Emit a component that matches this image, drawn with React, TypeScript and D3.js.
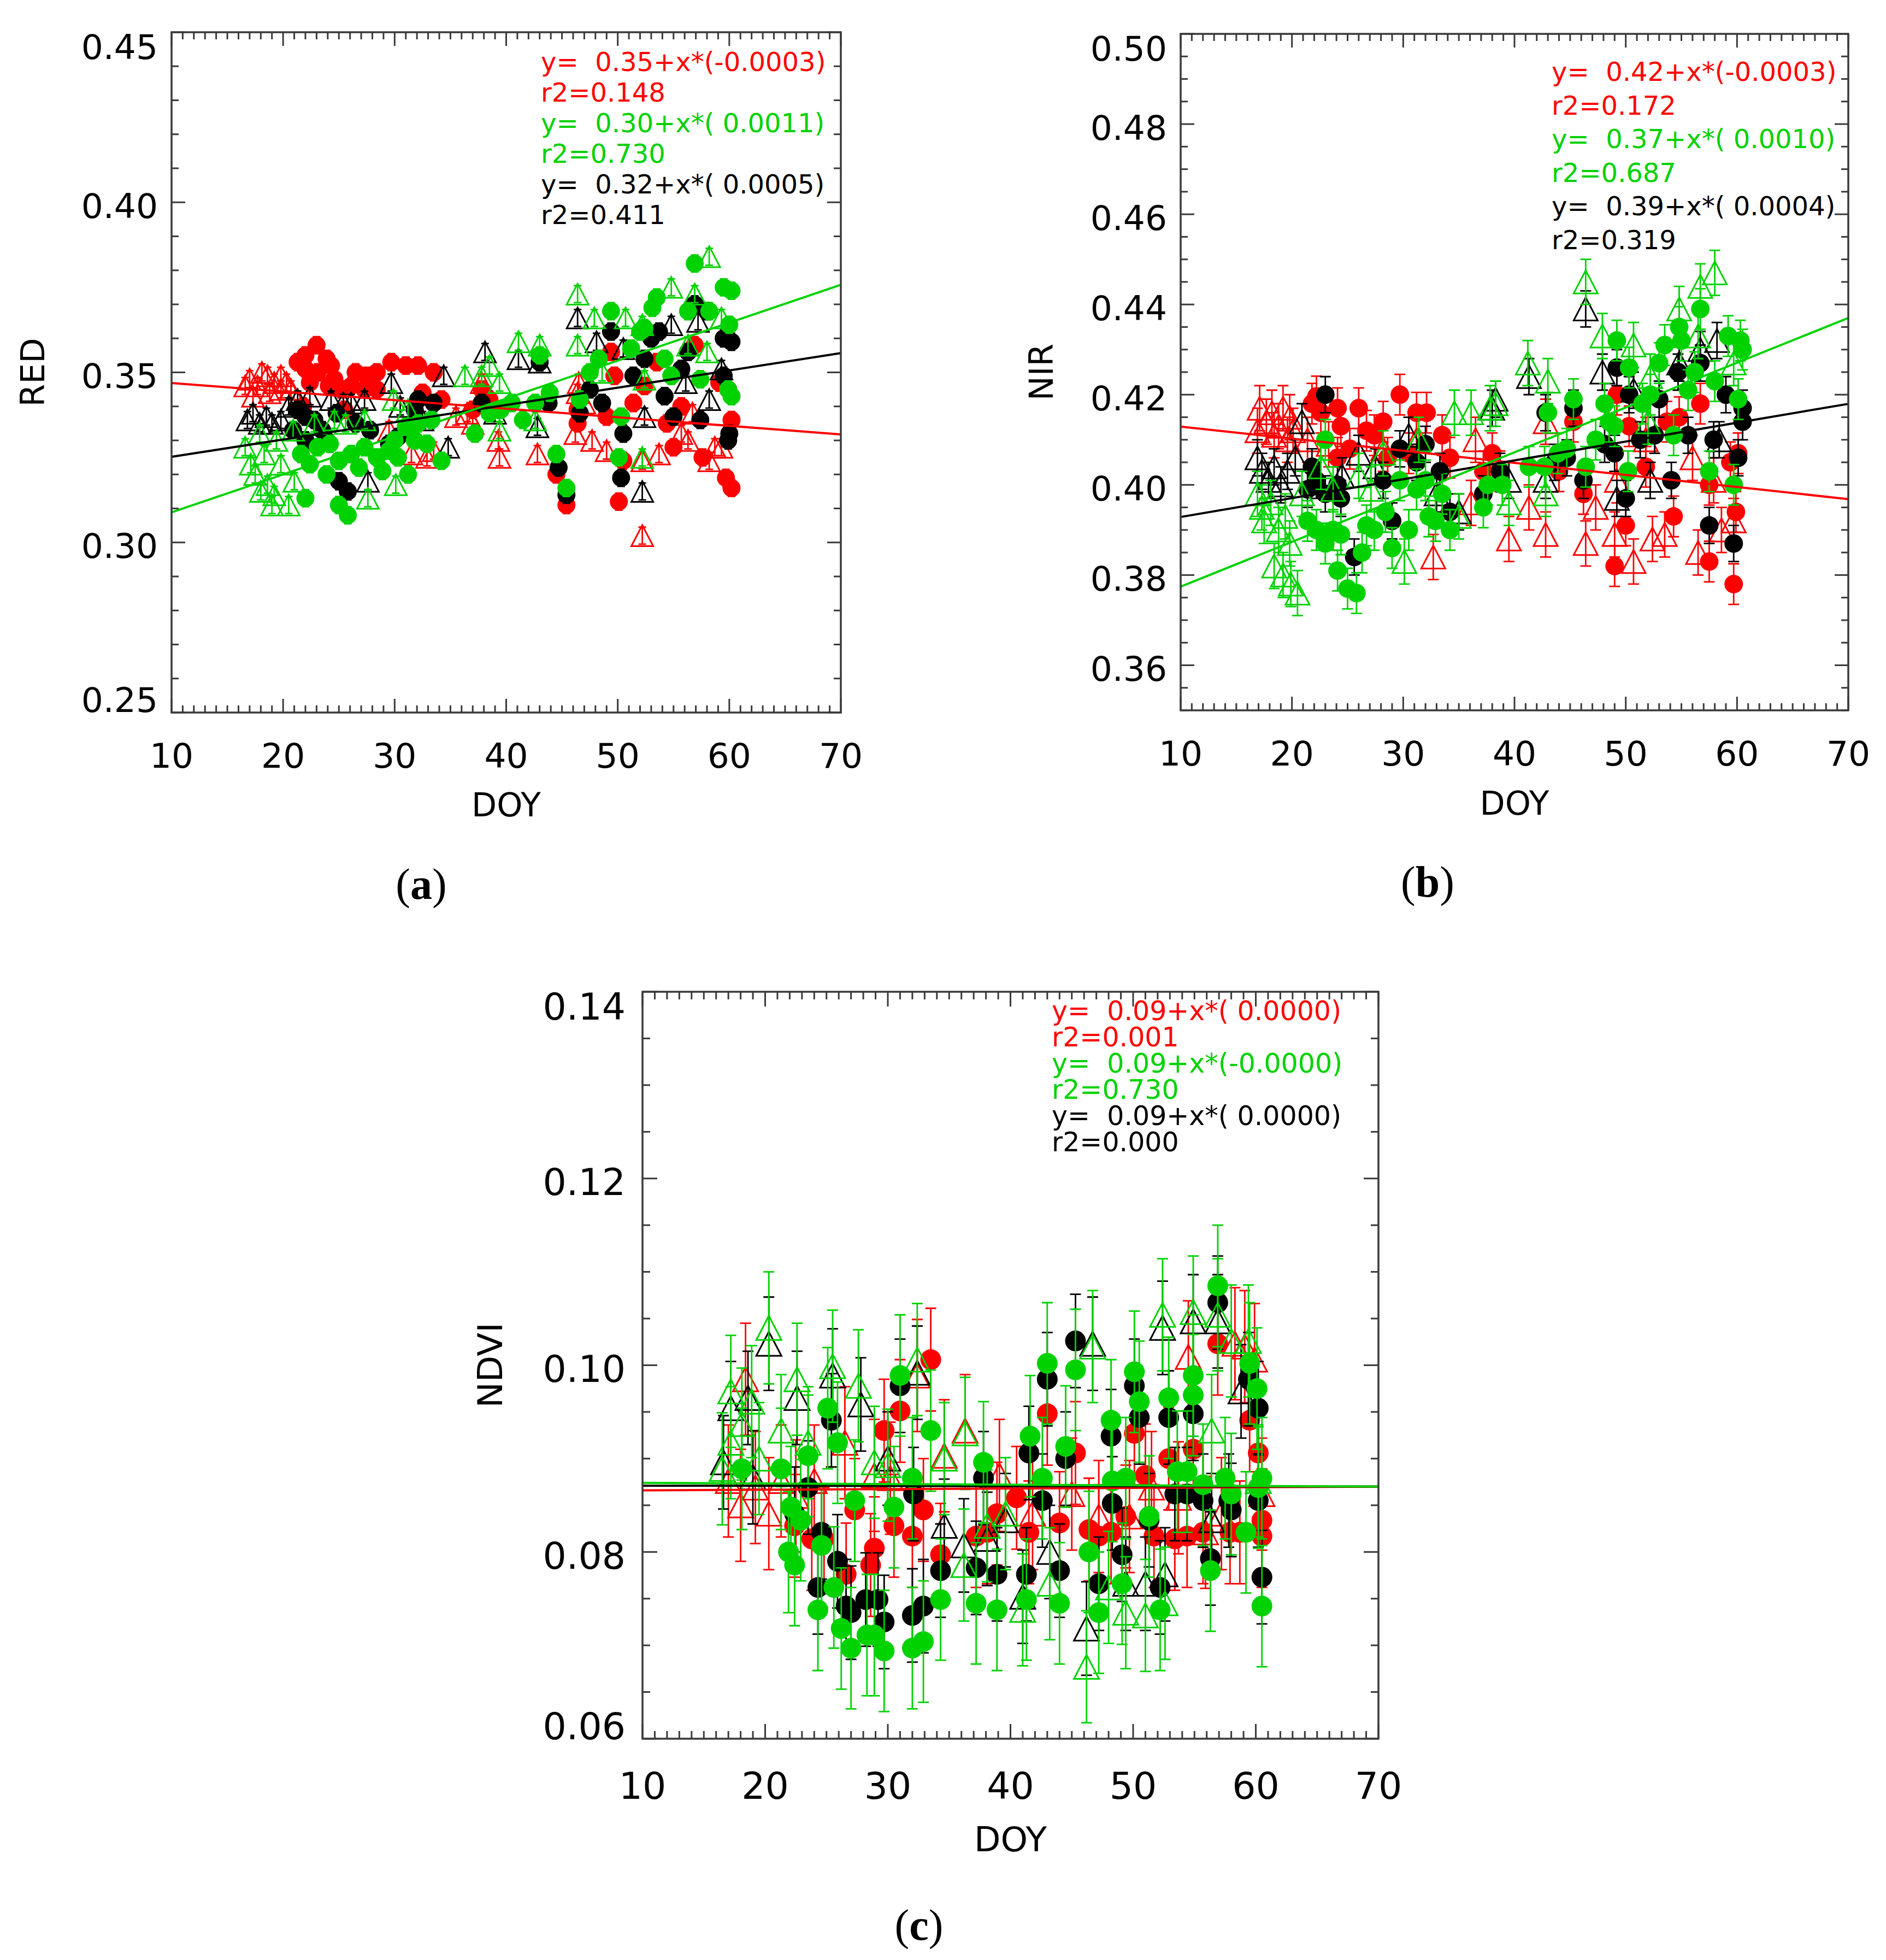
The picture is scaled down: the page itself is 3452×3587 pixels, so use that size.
import * as d3 from 'd3'

type Pt = [number, number]

const RED = '#ff0000'
const GREEN = '#00d200'
const BLACK = '#000000'
const AXIS = '#3a3a3a'

// ---------- (a) RED ----------
const A_RED_TRI: Pt[] = [
  [17.0, 0.348], [17.7, 0.346], [18.6, 0.349], [19.2, 0.347], [19.8, 0.349], [20.3, 0.347], [20.7, 0.345],
  [17.3, 0.343], [18.8, 0.344], [18.1, 0.350], [19.8, 0.345], [16.6, 0.346], [32.9, 0.325], [37.0, 0.335],
  [39.3, 0.330], [39.4, 0.325], [42.8, 0.326], [46.2, 0.332], [47.7, 0.330], [49.0, 0.327], [53.7, 0.326],
  [55.7, 0.332], [56.3, 0.330], [56.7, 0.338], [58.2, 0.324], [58.7, 0.328], [59.3, 0.328], [52.2, 0.302],
  [52.2, 0.324], [46.4, 0.344], [37.8, 0.347], [31.5, 0.326], [33.5, 0.327], [35.5, 0.337], [36.5, 0.338],
  [46.5, 0.347], [47.0, 0.341], [29.5, 0.333],
]
const A_RED_CIRCLE: Pt[] = [
  [23.0, 0.358], [22.0, 0.355], [21.3, 0.353], [23.9, 0.354], [24.3, 0.352], [22.0, 0.351], [23.1, 0.350],
  [24.6, 0.348], [22.4, 0.347], [24.1, 0.346], [25.2, 0.345], [26.5, 0.350], [27.5, 0.349], [28.4, 0.350],
  [26.1, 0.346], [27.3, 0.345], [29.7, 0.353], [31.0, 0.352], [32.1, 0.352], [33.5, 0.350], [28.4, 0.345],
  [32.5, 0.344], [34.2, 0.342], [37.8, 0.345], [38.5, 0.342], [37.0, 0.339], [21.8, 0.340], [25.5, 0.339],
  [49.4, 0.356], [46.4, 0.335], [45.4, 0.311], [44.5, 0.320], [49.7, 0.349], [51.4, 0.341], [52.4, 0.346],
  [53.5, 0.353], [54.4, 0.335], [55.0, 0.328], [55.7, 0.340], [56.9, 0.358], [59.9, 0.345], [60.2, 0.336],
  [57.6, 0.325], [59.7, 0.319], [60.2, 0.316], [50.1, 0.312], [49.0, 0.337], [59.1, 0.347], [50.5, 0.324],
  [46.4, 0.339],
]
const A_BLACK_TRI: Pt[] = [
  [16.8, 0.336], [17.3, 0.338], [17.9, 0.335], [18.5, 0.337], [19.0, 0.335], [19.8, 0.336], [20.5, 0.340],
  [21.3, 0.342], [22.4, 0.343], [24.3, 0.342], [25.4, 0.341], [26.1, 0.341], [27.3, 0.342], [29.7, 0.347],
  [34.4, 0.349], [34.8, 0.328], [27.6, 0.318], [38.1, 0.356], [41.1, 0.354], [43.0, 0.353], [42.8, 0.334],
  [46.4, 0.366], [48.1, 0.359], [50.5, 0.357], [52.4, 0.337], [52.2, 0.315], [54.8, 0.364], [57.2, 0.365],
  [58.2, 0.342], [59.3, 0.351], [56.1, 0.347], [30.5, 0.340], [32.5, 0.336], [39.0, 0.338],
]
const A_BLACK_CIRCLE: Pt[] = [
  [21.3, 0.339], [22.0, 0.337], [22.8, 0.336], [23.5, 0.333], [22.0, 0.330], [23.9, 0.330], [20.9, 0.333],
  [31.8, 0.339], [32.1, 0.342], [33.5, 0.341], [31.2, 0.333], [30.3, 0.331], [25.8, 0.315], [25.0, 0.318],
  [29.5, 0.329], [37.8, 0.341], [43.0, 0.353], [43.8, 0.341], [46.6, 0.338], [45.4, 0.314], [44.7, 0.322],
  [47.5, 0.345], [49.4, 0.362], [48.6, 0.341], [50.3, 0.319], [50.5, 0.332], [52.4, 0.354], [53.0, 0.360],
  [53.7, 0.362], [51.4, 0.349], [54.2, 0.343], [55.0, 0.337], [55.7, 0.351], [56.3, 0.356], [56.9, 0.370],
  [57.4, 0.336], [59.5, 0.360], [60.2, 0.359], [59.5, 0.349], [60.0, 0.332], [59.9, 0.330], [58.0, 0.368],
  [26.5, 0.335], [27.8, 0.333], [24.8, 0.338],
]
const A_GREEN_TRI: Pt[] = [
  [16.6, 0.328], [17.1, 0.323], [17.5, 0.320], [18.3, 0.326], [18.6, 0.317], [19.2, 0.314], [19.8, 0.323],
  [20.5, 0.311], [19.4, 0.330], [17.9, 0.332], [20.9, 0.333], [22.8, 0.335], [24.6, 0.336], [25.6, 0.335],
  [27.3, 0.336], [29.9, 0.342], [31.2, 0.339], [27.6, 0.313], [30.1, 0.317], [36.3, 0.349], [37.8, 0.349],
  [39.4, 0.347], [38.5, 0.352], [41.1, 0.359], [43.0, 0.358], [42.6, 0.336], [39.4, 0.333], [46.4, 0.373],
  [46.4, 0.358], [47.9, 0.366], [50.7, 0.366], [48.6, 0.350], [52.2, 0.364], [52.4, 0.348], [52.2, 0.325],
  [54.8, 0.375], [56.9, 0.373], [58.2, 0.384], [59.3, 0.366], [58.0, 0.356], [56.3, 0.358], [18.0, 0.315],
  [21.0, 0.318], [19.0, 0.311],
]
const A_GREEN_CIRCLE: Pt[] = [
  [21.6, 0.326], [22.4, 0.323], [23.1, 0.328], [23.9, 0.320], [25.0, 0.324], [26.1, 0.326], [27.3, 0.328],
  [28.4, 0.325], [29.5, 0.327], [30.3, 0.325], [31.2, 0.320], [31.8, 0.330], [32.9, 0.329], [33.3, 0.336],
  [34.2, 0.324], [32.1, 0.335], [31.0, 0.334], [22.0, 0.313], [25.0, 0.311], [25.8, 0.308], [37.2, 0.332],
  [38.5, 0.338], [41.5, 0.336], [42.6, 0.341], [43.0, 0.355], [43.9, 0.344], [44.5, 0.326], [45.4, 0.316],
  [46.6, 0.342], [47.5, 0.350], [48.3, 0.354], [49.4, 0.368], [50.3, 0.337], [50.1, 0.325], [51.2, 0.357],
  [52.4, 0.363], [53.1, 0.369], [53.5, 0.372], [54.2, 0.354], [54.8, 0.349], [56.3, 0.368], [56.9, 0.382],
  [58.2, 0.368], [59.5, 0.375], [60.2, 0.374], [60.0, 0.364], [59.9, 0.345], [60.2, 0.343], [57.4, 0.348],
  [52.0, 0.362], [24.2, 0.329], [26.8, 0.322], [28.9, 0.321], [30.0, 0.330], [39.5, 0.339], [40.5, 0.341],
]

// ---------- (b) NIR ----------
const B_RED_TRI: Pt[] = [
  [17.1, 0.417], [17.7, 0.414], [18.2, 0.416], [18.8, 0.413], [19.2, 0.417], [19.8, 0.415], [20.1, 0.412],
  [16.9, 0.412], [18.4, 0.411], [19.6, 0.410], [21.4, 0.410], [23.3, 0.409], [28.2, 0.408], [31.2, 0.410],
  [32.7, 0.384], [36.5, 0.410], [36.1, 0.396], [39.5, 0.388], [41.3, 0.395], [42.8, 0.389], [46.4, 0.387],
  [47.3, 0.395], [49.0, 0.389], [50.7, 0.383], [51.8, 0.410], [52.4, 0.388], [53.5, 0.389], [56.0, 0.406],
  [56.5, 0.385], [57.9, 0.401], [58.6, 0.390], [59.7, 0.392], [42.8, 0.414], [49.2, 0.401],
]
const B_RED_CIRCLE: Pt[] = [
  [22.2, 0.4196], [21.8, 0.418], [22.6, 0.416], [24.1, 0.417], [26.0, 0.417], [24.4, 0.413], [26.7, 0.412],
  [27.4, 0.411], [28.2, 0.414], [29.7, 0.420], [31.2, 0.416], [32.1, 0.416], [33.5, 0.411], [34.2, 0.406],
  [24.1, 0.406], [25.2, 0.408], [28.6, 0.406], [30.5, 0.407], [37.2, 0.403], [38.0, 0.407], [38.7, 0.403],
  [44.0, 0.403], [45.3, 0.414], [46.2, 0.398], [49.2, 0.420], [50.3, 0.413], [50.0, 0.391], [49.0, 0.382],
  [51.8, 0.404], [53.7, 0.414], [54.3, 0.393], [54.8, 0.415], [56.7, 0.418], [57.5, 0.400], [57.5, 0.383],
  [59.4, 0.405], [60.1, 0.407], [59.9, 0.394], [59.7, 0.378],
]
const B_BLACK_TRI: Pt[] = [
  [16.9, 0.406], [17.3, 0.403], [17.9, 0.401], [18.4, 0.404], [19.0, 0.400], [19.6, 0.403], [20.3, 0.406],
  [20.9, 0.414], [26.0, 0.407], [30.5, 0.411], [38.0, 0.417], [38.3, 0.419], [39.5, 0.401], [41.3, 0.424],
  [42.8, 0.401], [46.4, 0.439], [47.9, 0.425], [49.2, 0.397], [50.7, 0.421], [52.2, 0.401], [54.8, 0.427],
  [56.7, 0.430], [58.2, 0.432], [58.4, 0.410], [24.5, 0.402], [27.5, 0.404], [33.0, 0.398], [35.0, 0.394],
]
const B_BLACK_CIRCLE: Pt[] = [
  [23.0, 0.420], [21.8, 0.404], [22.2, 0.401], [23.0, 0.398], [21.4, 0.399], [24.1, 0.400], [24.4, 0.397],
  [25.6, 0.384], [28.2, 0.401], [29.0, 0.392], [29.7, 0.408], [31.2, 0.405], [32.0, 0.409], [33.3, 0.403],
  [34.2, 0.394], [37.2, 0.398], [38.7, 0.403], [42.8, 0.416], [43.6, 0.405], [44.7, 0.406], [45.3, 0.417],
  [46.2, 0.401], [48.1, 0.409], [49.0, 0.407], [49.2, 0.426], [50.0, 0.397], [50.3, 0.420], [51.3, 0.410],
  [52.6, 0.411], [53.0, 0.419], [54.1, 0.401], [54.7, 0.425], [55.6, 0.411], [56.7, 0.427], [57.5, 0.391],
  [57.9, 0.410], [59.0, 0.420], [59.7, 0.387], [60.1, 0.406], [60.5, 0.414], [60.5, 0.417],
]
const B_GREEN_TRI: Pt[] = [
  [16.9, 0.398], [17.3, 0.395], [17.5, 0.392], [18.1, 0.396], [18.4, 0.382], [18.8, 0.390], [19.2, 0.380],
  [19.8, 0.387], [19.9, 0.378], [20.5, 0.376], [20.9, 0.398], [19.4, 0.393], [22.6, 0.404], [23.7, 0.399],
  [26.0, 0.402], [27.1, 0.399], [28.2, 0.407], [30.1, 0.383], [31.4, 0.410], [34.6, 0.416], [36.1, 0.416],
  [37.8, 0.417], [38.3, 0.418], [41.2, 0.427], [43.0, 0.423], [42.8, 0.398], [46.4, 0.445], [47.9, 0.433],
  [50.7, 0.431], [52.2, 0.424], [54.8, 0.439], [56.7, 0.444], [58.0, 0.447], [56.5, 0.433], [59.7, 0.427],
  [52.0, 0.414], [39.5, 0.396], [35.0, 0.393],
]
const B_GREEN_CIRCLE: Pt[] = [
  [21.4, 0.392], [22.2, 0.390], [23.0, 0.387], [23.7, 0.390], [24.4, 0.389], [24.1, 0.381], [25.0, 0.377],
  [25.8, 0.376], [26.3, 0.385], [26.7, 0.391], [27.4, 0.390], [28.4, 0.394], [29.0, 0.386], [29.7, 0.401],
  [30.5, 0.390], [31.2, 0.399], [32.0, 0.401], [32.3, 0.393], [32.9, 0.392], [33.5, 0.398], [34.2, 0.390],
  [23.0, 0.410], [37.2, 0.395], [37.6, 0.400], [38.9, 0.400], [41.3, 0.404], [42.7, 0.404], [43.0, 0.416],
  [43.9, 0.407], [44.7, 0.408], [45.3, 0.419], [46.4, 0.404], [47.3, 0.410], [48.1, 0.418], [48.5, 0.414],
  [49.0, 0.413], [49.2, 0.432], [50.2, 0.403], [50.3, 0.426], [51.5, 0.418], [52.2, 0.420], [53.0, 0.427],
  [53.5, 0.431], [54.3, 0.411], [54.8, 0.435], [55.0, 0.432], [55.6, 0.421], [56.2, 0.425], [56.7, 0.439],
  [57.5, 0.403], [58.0, 0.423], [59.2, 0.433], [59.7, 0.400], [60.1, 0.419], [60.3, 0.432], [60.5, 0.430],
]

// ---------- (c) NDVI ----------
const C_RED_TRI: Pt[] = [
  [17.0, 0.0876], [18.4, 0.0985], [19.2, 0.0869], [20.3, 0.0841], [21.3, 0.0876], [24.0, 0.0876],
  [26.5, 0.0917], [28.9, 0.0882], [30.2, 0.0879], [32.4, 0.0989], [34.6, 0.0903], [36.3, 0.0930],
  [39.1, 0.0882], [41.8, 0.0841], [45.0, 0.0862], [47.2, 0.0838], [49.7, 0.0838], [51.5, 0.0869],
  [53.7, 0.0858], [54.5, 0.1009], [55.9, 0.0821], [57.2, 0.0841], [58.3, 0.1023], [59.1, 0.1020],
  [59.9, 0.1006], [60.5, 0.0862], [18.0, 0.0850], [22.5, 0.0860],
]
const C_RED_CIRCLE: Pt[] = [
  [24.8, 0.0814], [26.6, 0.0776], [27.3, 0.0845], [28.6, 0.0786], [28.9, 0.0804], [29.7, 0.0930],
  [30.5, 0.0828], [31.0, 0.0951], [32.0, 0.0817], [32.9, 0.0845], [33.5, 0.1006], [34.3, 0.0797],
  [37.2, 0.0817], [38.1, 0.0821], [38.9, 0.0841], [40.5, 0.0858], [41.5, 0.0821], [43.0, 0.0948],
  [44.0, 0.0831], [45.3, 0.0906], [46.4, 0.0824], [47.2, 0.0817], [48.2, 0.0821], [49.4, 0.0838],
  [50.1, 0.0927], [51.0, 0.0882], [51.7, 0.0817], [52.9, 0.0900], [53.4, 0.0814], [54.4, 0.0817],
  [54.9, 0.0910], [55.7, 0.0821], [56.9, 0.1023], [57.9, 0.0821], [58.7, 0.0821], [59.5, 0.0941],
  [60.2, 0.0906], [60.5, 0.0834], [60.5, 0.0817], [22.4, 0.0828], [23.8, 0.0814],
]
const C_BLACK_TRI: Pt[] = [
  [17.2, 0.0954], [16.6, 0.0896], [18.6, 0.0965], [20.3, 0.1023], [22.6, 0.0965], [25.5, 0.0989],
  [27.8, 0.0958], [30.0, 0.0900], [32.4, 0.0992], [36.2, 0.0807], [38.1, 0.0814], [39.6, 0.0834],
  [41.0, 0.0752], [43.2, 0.0800], [46.2, 0.0718], [46.7, 0.1023], [49.4, 0.0766], [51.0, 0.0766],
  [52.4, 0.1040], [52.6, 0.0776], [54.9, 0.1047], [56.4, 0.0834], [56.9, 0.1047], [58.8, 0.0972],
  [34.6, 0.0828], [19.0, 0.0880],
]
const C_BLACK_CIRCLE: Pt[] = [
  [24.6, 0.0821], [24.3, 0.0762], [25.4, 0.0941], [25.9, 0.0790], [26.6, 0.0742], [27.0, 0.0735],
  [28.2, 0.0749], [29.2, 0.0749], [29.7, 0.0725], [31.0, 0.0978], [32.0, 0.0732], [32.9, 0.0742],
  [32.1, 0.0862], [34.3, 0.0780], [37.2, 0.0783], [37.8, 0.0879], [38.9, 0.0776], [41.5, 0.0906],
  [41.3, 0.0776], [42.6, 0.0855], [43.0, 0.0985], [44.0, 0.0780], [44.5, 0.0900], [45.3, 0.1026],
  [47.2, 0.0766], [48.2, 0.0924], [48.3, 0.0852], [49.1, 0.0797], [50.1, 0.0978], [50.5, 0.0944],
  [51.3, 0.0834], [52.2, 0.0762], [52.9, 0.0944], [53.4, 0.0862], [54.4, 0.0862], [54.9, 0.0948],
  [55.7, 0.0855], [56.3, 0.0793], [56.9, 0.1067], [57.8, 0.0855], [58.0, 0.0845], [59.4, 0.0985],
  [60.2, 0.0954], [60.2, 0.0855], [60.5, 0.0773], [22.4, 0.0841], [23.5, 0.0869],
]
const C_GREEN_TRI: Pt[] = [
  [17.2, 0.0972], [18.1, 0.0937], [18.9, 0.0961], [20.3, 0.1040], [21.3, 0.0930], [22.6, 0.0985],
  [23.5, 0.0917], [25.5, 0.0999], [27.6, 0.0978], [28.9, 0.0896], [30.0, 0.0893], [32.4, 0.1006],
  [34.6, 0.0900], [36.3, 0.0927], [36.2, 0.0786], [38.1, 0.0828], [39.6, 0.0841], [41.0, 0.0738],
  [43.2, 0.0766], [46.2, 0.0677], [46.7, 0.1020], [48.0, 0.0762], [49.4, 0.0735], [51.0, 0.0732],
  [52.4, 0.1054], [52.6, 0.0745], [54.9, 0.1057], [56.4, 0.0930], [56.9, 0.1054], [58.0, 0.1026],
  [59.4, 0.1026], [60.2, 0.0876], [17.2, 0.0917], [16.5, 0.0889], [19.5, 0.0900],
]
const C_GREEN_CIRCLE: Pt[] = [
  [21.3, 0.0889], [22.1, 0.0848], [21.9, 0.0800], [22.4, 0.0786], [22.9, 0.0834], [23.5, 0.0903],
  [24.3, 0.0738], [24.6, 0.0807], [25.1, 0.0954], [25.6, 0.0762], [25.9, 0.0917], [26.2, 0.0718],
  [27.0, 0.0697], [27.3, 0.0855], [28.3, 0.0711], [28.9, 0.0711], [29.7, 0.0694], [30.5, 0.0848],
  [31.0, 0.0989], [32.0, 0.0697], [32.9, 0.0704], [32.0, 0.0879], [33.5, 0.0930], [34.3, 0.0749],
  [37.2, 0.0745], [37.8, 0.0896], [38.9, 0.0738], [41.6, 0.0924], [41.3, 0.0749], [42.6, 0.0879],
  [43.0, 0.1002], [44.0, 0.0745], [44.5, 0.0913], [45.3, 0.0995], [46.4, 0.0800], [47.2, 0.0735],
  [48.2, 0.0941], [48.3, 0.0876], [49.1, 0.0766], [49.4, 0.0879], [50.1, 0.0993], [50.5, 0.0961],
  [51.3, 0.0838], [52.2, 0.0738], [52.9, 0.0965], [53.6, 0.0886], [54.4, 0.0886], [54.9, 0.0989],
  [54.9, 0.0968], [55.7, 0.0872], [56.3, 0.0780], [56.9, 0.1085], [57.5, 0.0879], [58.0, 0.0862],
  [59.2, 0.0821], [59.5, 0.1002], [60.1, 0.0975], [60.2, 0.0869], [60.5, 0.0742], [60.5, 0.0879],
  [18.1, 0.0889],
]

// linear fits: [intercept, slope]
const A_FITS: [number, number, string][] = [[0.3494, -0.000252, RED], [0.3201, 0.000508, BLACK], [0.2977, 0.001115, GREEN]]
const B_FITS: [number, number, string][] = [[0.4156, -0.000268, RED], [0.3887, 0.000418, BLACK], [0.3675, 0.000993, GREEN]]
const C_FITS: [number, number, string][] = [[0.08653, 0.0000067, RED], [0.08712, -0.0000017, BLACK], [0.08747, -0.0000067, GREEN]]

const A_LEGEND = ['y=  0.35+x*(-0.0003)', 'r2=0.148', 'y=  0.30+x*( 0.0011)', 'r2=0.730', 'y=  0.32+x*( 0.0005)', 'r2=0.411']
const B_LEGEND = ['y=  0.42+x*(-0.0003)', 'r2=0.172', 'y=  0.37+x*( 0.0010)', 'r2=0.687', 'y=  0.39+x*( 0.0004)', 'r2=0.319']
const C_LEGEND = ['y=  0.09+x*( 0.0000)', 'r2=0.001', 'y=  0.09+x*(-0.0000)', 'r2=0.730', 'y=  0.09+x*( 0.0000)', 'r2=0.000']
const LEGEND_COLORS = [RED, RED, GREEN, GREEN, BLACK, BLACK]

const X_MAJOR = d3.range(10, 71, 10)
const X_MINOR = d3.range(10, 71, 1)

interface Series { pts: Pt[]; color: string; shape: 'tri' | 'circle'; err: number }

interface PanelProps {
  box: [number, number, number, number]
  yDomain: [number, number]
  yMajor: number[]
  yMinor: number[]
  yTitle: string
  series: Series[]
  fits: [number, number, string][]
  legend: string[]
  legendPos: [number, number, number]
  legendFont: number
  tickFont: number
  titleFont: number
  r: number
  tri: number
  cap: number
  major: number
  minor: number
  labelGap: number
  xLabelDy: number
  xTitleDy: number
  yTitleDx: number
  caption: string
  captionPos: [number, number]
}

function Panel(p: PanelProps) {
  const [x0, x1, y0, y1] = p.box
  const x = d3.scaleLinear().domain([10, 70]).range([x0, x1])
  const y = d3.scaleLinear().domain(p.yDomain).range([y1, y0])
  const font = 'DejaVu Sans, Verdana, sans-serif'
  const triPath = (cx: number, cy: number) => {
    const w = p.tri / 2
    const h = p.tri * 0.48
    return `M${cx - w},${cy + h}L${cx},${cy - h}L${cx + w},${cy + h}Z`
  }
  const eq = (a: number, b: number) => Math.abs(a - b) < 1e-9
  return (
    <g>
      {p.series.map((s, si) => (
        <g key={si}>
          {s.pts.map((d, i) => {
            const cx = x(d[0])
            const cy = y(d[1])
            return s.shape === 'circle' ? (
              <circle key={i} cx={cx} cy={cy} r={p.r} fill={s.color} />
            ) : (
              <path key={i} d={triPath(cx, cy)} fill="none" stroke={s.color} strokeWidth={3} />
            )
          })}
          {s.pts.map((d, i) => {
            const cx = x(d[0])
            const ya = y(d[1] + s.err)
            const yb = y(d[1] - s.err)
            return (
              <path key={'e' + i}
                d={`M${cx},${ya}L${cx},${yb}M${cx - p.cap},${ya}L${cx + p.cap},${ya}M${cx - p.cap},${yb}L${cx + p.cap},${yb}`}
                stroke={s.color} strokeWidth={2.8} fill="none" />
            )
          })}
        </g>
      ))}
      {p.fits.map(([a, b, c], i) => (
        <line key={i} x1={x(10)} x2={x(70)} y1={y(a + b * 10)} y2={y(a + b * 70)} stroke={c} strokeWidth={4} />
      ))}
      <rect x={x0} y={y0} width={x1 - x0} height={y1 - y0} fill="none" stroke={AXIS} strokeWidth={3.5} />
      {X_MINOR.map((v) => {
        const len = X_MAJOR.includes(v) ? p.major : p.minor
        return (
          <g key={'x' + v} stroke={AXIS} strokeWidth={3}>
            <line x1={x(v)} x2={x(v)} y1={y1} y2={y1 - len} />
            <line x1={x(v)} x2={x(v)} y1={y0} y2={y0 + len} />
          </g>
        )
      })}
      {p.yMinor.map((v) => {
        const len = p.yMajor.some((m) => eq(m, v)) ? p.major : p.minor
        return (
          <g key={'y' + v} stroke={AXIS} strokeWidth={3}>
            <line x1={x0} x2={x0 + len} y1={y(v)} y2={y(v)} />
            <line x1={x1} x2={x1 - len} y1={y(v)} y2={y(v)} />
          </g>
        )
      })}
      {X_MAJOR.map((v) => (
        <text key={'xl' + v} x={x(v)} y={y1 + p.xLabelDy} textAnchor="middle" dominantBaseline="central"
          fontFamily={font} fontSize={p.tickFont}>{v}</text>
      ))}
      {p.yMajor.map((v) => {
        const off = eq(v, p.yDomain[1]) ? 27 : eq(v, p.yDomain[0]) ? -23 : 7
        return (
          <text key={'yl' + v} x={x0 - p.labelGap} y={y(v) + off} textAnchor="end" dominantBaseline="central"
            fontFamily={font} fontSize={p.tickFont}>{v.toFixed(2)}</text>
        )
      })}
      <text x={(x0 + x1) / 2} y={y1 + p.xTitleDy} textAnchor="middle" dominantBaseline="central"
        fontFamily={font} fontSize={p.titleFont}>DOY</text>
      <text transform={`translate(${x0 - p.yTitleDx},${(y0 + y1) / 2}) rotate(-90)`} textAnchor="middle"
        dominantBaseline="central" fontFamily={font} fontSize={p.titleFont}>{p.yTitle}</text>
      {p.legend.map((t, i) => (
        <text key={'lg' + i} x={p.legendPos[0]} y={p.legendPos[1] + i * p.legendPos[2]} dominantBaseline="central"
          fill={LEGEND_COLORS[i]} fontFamily={font} fontSize={p.legendFont} style={{ whiteSpace: 'pre' }}>{t}</text>
      ))}
      <text x={p.captionPos[0]} y={p.captionPos[1]} textAnchor="middle" fontFamily="Liberation Serif, Times New Roman, serif"
        fontSize={80}>(<tspan fontWeight="bold">{p.caption}</tspan>)</text>
    </g>
  )
}

const mk = (red: [Pt[], Pt[]], black: [Pt[], Pt[]], green: [Pt[], Pt[]], errs: number[]): Series[] => [
  { pts: red[0], color: RED, shape: 'tri', err: errs[0] },
  { pts: red[1], color: RED, shape: 'circle', err: errs[1] },
  { pts: black[0], color: BLACK, shape: 'tri', err: errs[2] },
  { pts: black[1], color: BLACK, shape: 'circle', err: errs[3] },
  { pts: green[0], color: GREEN, shape: 'tri', err: errs[4] },
  { pts: green[1], color: GREEN, shape: 'circle', err: errs[5] },
]

export default function App() {
  const aSeries = mk([A_RED_TRI, A_RED_CIRCLE], [A_BLACK_TRI, A_BLACK_CIRCLE], [A_GREEN_TRI, A_GREEN_CIRCLE],
    [0.0025, 0.0025, 0.0025, 0.0025, 0.0025, 0.0025])
  const bSeries = mk([B_RED_TRI, B_RED_CIRCLE], [B_BLACK_TRI, B_BLACK_CIRCLE], [B_GREEN_TRI, B_GREEN_CIRCLE],
    [0.005, 0.0045, 0.004, 0.004, 0.005, 0.0045])
  const cSeries = mk([C_RED_TRI, C_RED_CIRCLE], [C_BLACK_TRI, C_BLACK_CIRCLE], [C_GREEN_TRI, C_GREEN_CIRCLE],
    [0.006, 0.0055, 0.005, 0.005, 0.006, 0.0065])
  return (
    <svg width={3452} height={3587} viewBox="0 0 3452 3587"
      style={{ position: 'absolute', left: 0, top: 0, background: '#ffffff' }}>
      <rect width={3452} height={3587} fill="#ffffff" />
      <Panel box={[314, 1539, 59, 1304]} yDomain={[0.25, 0.45]}
        yMajor={d3.range(0, 5).map((i) => 0.25 + i * 0.05)} yMinor={d3.range(0, 21).map((i) => 0.25 + i * 0.01)}
        yTitle="RED" series={aSeries} fits={A_FITS} legend={A_LEGEND} legendPos={[990, 113, 56]}
        legendFont={48} tickFont={63} titleFont={60} r={16.5} tri={40} cap={7} major={25} minor={13}
        labelGap={25} xLabelDy={79} xTitleDy={169} yTitleDx={254} caption="a" captionPos={[771, 1645]} />
      <Panel box={[2161, 3383, 62, 1300]} yDomain={[0.35, 0.50]}
        yMajor={d3.range(0, 8).map((i) => 0.36 + i * 0.02)} yMinor={d3.range(0, 31).map((i) => 0.35 + i * 0.005)}
        yTitle="NIR" series={bSeries} fits={B_FITS} legend={B_LEGEND} legendPos={[2840, 131, 61.6]}
        legendFont={48} tickFont={63} titleFont={60} r={17} tri={44} cap={10} major={25} minor={13}
        labelGap={25} xLabelDy={79} xTitleDy={170} yTitleDx={255} caption="b" captionPos={[2613, 1641]} />
      <Panel box={[1176, 2523, 1815, 3182]} yDomain={[0.06, 0.14]}
        yMajor={d3.range(0, 5).map((i) => 0.06 + i * 0.02)} yMinor={d3.range(0, 17).map((i) => 0.06 + i * 0.005)}
        yTitle="NDVI" series={cSeries} fits={C_FITS} legend={C_LEGEND} legendPos={[1925, 1850, 48]}
        legendFont={49} tickFont={68} titleFont={63} r={19} tri={46} cap={10} major={27} minor={14}
        labelGap={31} xLabelDy={86} xTitleDy={184} yTitleDx={279} caption="c" captionPos={[1682, 3550]} />
    </svg>
  )
}
